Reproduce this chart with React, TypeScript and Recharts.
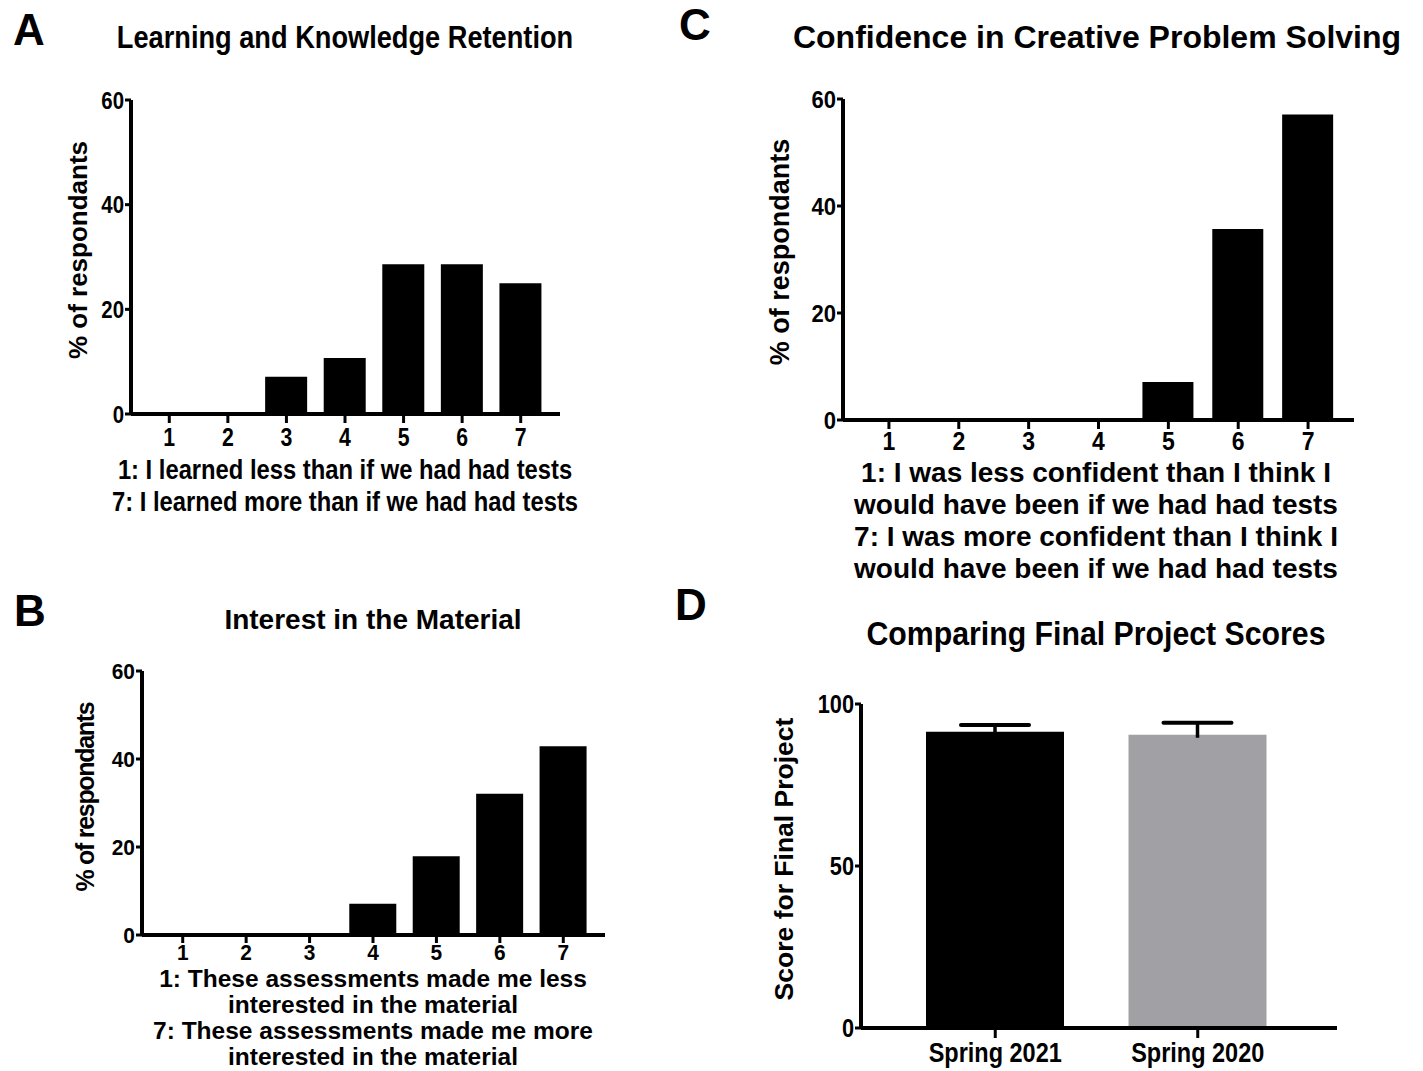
import React from "react";
import { Bar, BarChart, Cell, XAxis, YAxis } from "recharts";

const ratings = ["1", "2", "3", "4", "5", "6", "7"];
const learningPct = [0, 0, 7.1, 10.7, 28.6, 28.6, 25.0];
const interestPct = [0, 0, 0, 7.1, 17.9, 32.1, 42.9];
const confidencePct = [0, 0, 0, 0, 7.1, 35.7, 57.1];
const pctTicks = [0, 20, 40, 60];

const cohorts = ["Spring 2021", "Spring 2020"];
const projectScore = [91.4, 90.5];
const projectErr = [2.1, 3.7];
const cohortColors = ["#000000", "#a1a1a5"];
const scoreTicks = [0, 50, 100];

const FONT = "'Liberation Sans', Arial, sans-serif";

const pctRows = (vals: number[]) => ratings.map((r, i) => ({ rating: r, pct: vals[i] }));
const scoreRows = cohorts.map((c, i) => ({ cohort: c, score: projectScore[i], err: projectErr[i] }));

type TxtProps = {
  x: number;
  y: number;
  size: number;
  sx?: number;
  rotate?: boolean;
  spacing?: number;
  lh?: number;
  lines: string[];
};

function Txt({ x, y, size, sx = 1, rotate, spacing, lh, lines }: TxtProps) {
  return (
    <div
      style={{
        position: "absolute",
        left: x,
        top: y,
        transform: `translate(-50%, -50%)${rotate ? " rotate(-90deg)" : ""} scaleX(${sx})`,
        fontSize: size,
        fontWeight: 700,
        fontFamily: FONT,
        letterSpacing: spacing,
        lineHeight: lh ? `${lh}px` : 1.1,
        whiteSpace: "nowrap",
        textAlign: "center",
        color: "#000",
      }}
    >
      {lines.map((l, i) => (
        <div key={i}>{l}</div>
      ))}
    </div>
  );
}

// tick text squeezed horizontally to mimic the condensed face of the original
const makeTick = (size: number, sx: number, dy: string) => (props: any) => {
  const { x, y, payload, textAnchor } = props;
  return (
    <text
      x={x}
      y={y}
      dy={dy}
      textAnchor={textAnchor}
      fill="#000"
      fontSize={size}
      fontWeight={700}
      fontFamily={FONT}
      transform={`translate(${x},${y}) scale(${sx},1) translate(${-x},${-y})`}
    >
      {payload.value}
    </text>
  );
};

type PanelProps = {
  rows: any[];
  xKey: string;
  left: number;
  right: number;
  top: number;
  bottom: number;
  pad: { left: number; right: number };
  ticks: number[];
  yFont: number;
  xFont: number;
  ySx: number;
  xSx: number;
  xTickSize: number;
  xTickMargin: number;
  children: React.ReactNode;
};

const Y_W = 70;
const M_TOP = 22;
const X_H = 60;

function Panel(p: PanelProps) {
  const width = Y_W + (p.right - p.left) + 12;
  const height = M_TOP + (p.bottom - p.top) + X_H;
  return (
    <div style={{ position: "absolute", left: p.left - Y_W, top: p.top - M_TOP }}>
      <BarChart
        width={width}
        height={height}
        data={p.rows}
        margin={{ top: M_TOP, right: 12, left: 0, bottom: 0 }}
      >
        <XAxis
          dataKey={p.xKey}
          type="category"
          padding={p.pad}
          height={X_H}
          axisLine={{ stroke: "#000", strokeWidth: 4 }}
          tickLine={{ stroke: "#000", strokeWidth: 3 }}
          tickSize={p.xTickSize}
          tickMargin={p.xTickMargin}
          tick={makeTick(p.xFont, p.xSx, "0.71em")}
          interval={0}
        />
        <YAxis
          width={Y_W}
          domain={[p.ticks[0], p.ticks[p.ticks.length - 1]]}
          ticks={p.ticks}
          axisLine={{ stroke: "#000", strokeWidth: 4 }}
          tickLine={{ stroke: "#000", strokeWidth: 3 }}
          tickSize={6}
          tickMargin={1}
          tick={makeTick(p.yFont, p.ySx, "0.355em")}
          allowDataOverflow
        />
        {p.children}
      </BarChart>
    </div>
  );
}

const ErrorCap = (props: any) => {
  const { x, y, width, height } = props;
  const cx = x + width / 2;
  return (
    <g>
      <line x1={cx} x2={cx} y1={y + height + 3} y2={y} stroke="#000" strokeWidth={3.5} />
      <line
        x1={cx - 34}
        x2={cx + 34}
        y1={y}
        y2={y}
        stroke="#000"
        strokeWidth={4}
        strokeLinecap="round"
      />
    </g>
  );
};

export default function App() {
  return (
    <div
      style={{
        position: "absolute",
        left: 0,
        top: 0,
        width: 1423,
        height: 1071,
        background: "#fff",
        overflow: "hidden",
      }}
    >
      {/* A */}
      <Txt x={29} y={30} size={44} lines={["A"]} />
      <Txt x={345} y={38} size={32} sx={0.85} lines={["Learning and Knowledge Retention"]} />
      <Txt x={78} y={250} size={26} rotate lines={["% of respondants"]} />
      <Panel
        rows={pctRows(learningPct)}
        xKey="rating"
        left={131}
        right={560}
        top={100}
        bottom={414}
        pad={{ left: 9, right: 10 }}
        ticks={pctTicks}
        yFont={24}
        xFont={25}
        ySx={0.85}
        xSx={0.85}
        xTickSize={9}
        xTickMargin={5}
      >
        <Bar dataKey="pct" fill="#000" barSize={42} isAnimationActive={false} />
      </Panel>
      <Txt
        x={345}
        y={486}
        size={27}
        sx={0.88}
        lh={32}
        lines={["1: I learned less than if we had had tests", "7: I learned more than if we had had tests"]}
      />

      {/* C */}
      <Txt x={695} y={25} size={44} lines={["C"]} />
      <Txt x={1097} y={38} size={32} lines={["Confidence in Creative Problem Solving"]} />
      <Txt x={781} y={252} size={27} rotate lines={["% of respondants"]} />
      <Panel
        rows={pctRows(confidencePct)}
        xKey="rating"
        left={843}
        right={1354}
        top={99}
        bottom={420}
        pad={{ left: 11, right: 11 }}
        ticks={pctTicks}
        yFont={24}
        xFont={25}
        ySx={0.92}
        xSx={0.92}
        xTickSize={9}
        xTickMargin={3}
      >
        <Bar dataKey="pct" fill="#000" barSize={51} isAnimationActive={false} />
      </Panel>
      <Txt
        x={1096}
        y={521}
        size={28}
        lh={32}
        lines={[
          "1: I was less confident than I think I",
          "would have been if we had had tests",
          "7: I was more confident than I think I",
          "would have been if we had had tests",
        ]}
      />

      {/* B */}
      <Txt x={30} y={611} size={44} lines={["B"]} />
      <Txt x={373} y={620} size={28} lines={["Interest in the Material"]} />
      <Txt x={86} y={797} size={25} spacing={-1.3} rotate lines={["% of respondants"]} />
      <Panel
        rows={pctRows(interestPct)}
        xKey="rating"
        left={142}
        right={605}
        top={671}
        bottom={935}
        pad={{ left: 9, right: 10 }}
        ticks={pctTicks}
        yFont={22}
        xFont={22}
        ySx={0.95}
        xSx={0.95}
        xTickSize={8}
        xTickMargin={1}
      >
        <Bar dataKey="pct" fill="#000" barSize={47} isAnimationActive={false} />
      </Panel>
      <Txt
        x={373}
        y={1018}
        size={24.5}
        lh={26}
        lines={[
          "1: These assessments made me less",
          "interested in the material",
          "7: These assessments made me more",
          "interested in the material",
        ]}
      />

      {/* D */}
      <Txt x={691} y={605} size={44} lines={["D"]} />
      <Txt x={1096} y={634} size={34} sx={0.89} lines={["Comparing Final Project Scores"]} />
      <Txt x={785} y={859} size={26.5} rotate lines={["Score for Final Project"]} />
      <Panel
        rows={scoreRows}
        xKey="cohort"
        left={861}
        right={1337}
        top={704}
        bottom={1028}
        pad={{ left: 33, right: 38 }}
        ticks={scoreTicks}
        yFont={25}
        xFont={27}
        ySx={0.87}
        xSx={0.87}
        xTickSize={10}
        xTickMargin={5}
      >
        <Bar dataKey="score" stackId="s" barSize={138} isAnimationActive={false}>
          {scoreRows.map((_, i) => (
            <Cell key={i} fill={cohortColors[i]} />
          ))}
        </Bar>
        <Bar dataKey="err" stackId="s" barSize={138} shape={ErrorCap} isAnimationActive={false} />
      </Panel>
    </div>
  );
}
